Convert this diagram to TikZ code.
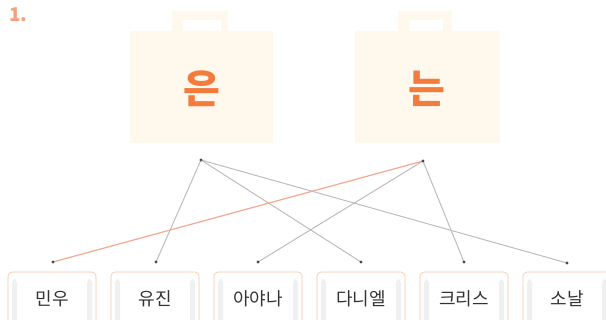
\documentclass[tikz,border=0pt]{standalone}
\usepackage{fontspec}
\newfontfamily\krfont{Noto Sans CJK KR}
\usetikzlibrary{backgrounds}
\definecolor{bagcream}{HTML}{FFF8EC}
\definecolor{markorange}{HTML}{F47B3E}
\definecolor{numsalmon}{HTML}{F4A07E}
\definecolor{boxpeach}{HTML}{F7C2A6}
\definecolor{wiregray}{HTML}{BDBDBD}
\definecolor{dotgray}{HTML}{4A4A4A}
\definecolor{pickline}{HTML}{F2AA90}
\tikzset{
  bagmark/.style={font=\krfont\bfseries\fontsize{40}{40}\selectfont, text=markorange, inner sep=0pt},
  namebox/.style={draw=boxpeach, line width=0.6pt, rounded corners=4pt, fill=white,
    minimum width=88pt, minimum height=53pt, inner sep=0pt,
    font=\krfont\fontsize{18}{18}\selectfont, text=black!80,
    path picture={
      \fill[gray!12] ([xshift=4pt]path picture bounding box.south west) rectangle ++(5pt,46pt);
      \fill[gray!12] ([xshift=-4pt]path picture bounding box.south east) rectangle ++(-5pt,46pt);}},
  dotmark/.style={circle, fill=dotgray, inner sep=0pt, minimum size=3.4pt},
  wire/.style={wiregray, line width=1pt}
}
\begin{document}
\begin{tikzpicture}[x=1pt,y=-1pt]
  \useasboundingbox (0,0) rectangle (606,320);
  \node[font=\krfont\bfseries\fontsize{19}{19}\selectfont, text=numsalmon, anchor=north west, inner sep=0pt] (num) at (9,8) {1.};
  % bags
  \fill[bagcream] (130,31) rectangle (273,143);
  \fill[bagcream, even odd rule] (172,11) rectangle (228,31) (183,20) rectangle (221,31);
  \fill[bagcream] (355,31) rectangle (500,143);
  \fill[bagcream, even odd rule] (398,11) rectangle (452,31) (409,20) rectangle (443,31);
  \node[bagmark] (eun) at (202,89) {은};
  \node[bagmark] (neun) at (427,89) {는};
  % pins
  \node[dotmark] (eunpin) at (201,160) {};
  \node[dotmark] (neunpin) at (423,161) {};
  \node[dotmark] (minupin) at (53,262) {};
  \node[dotmark] (yujinpin) at (156,262) {};
  \node[dotmark] (ayanapin) at (258,262) {};
  \node[dotmark] (danielpin) at (361,262) {};
  \node[dotmark] (chrispin) at (464,262) {};
  \node[dotmark] (sonalpin) at (567,263) {};
  % names
  \node[namebox] (minu) at (52,298.5) {민우};
  \node[namebox] (yujin) at (155,298.5) {유진};
  \node[namebox] (ayana) at (258,298.5) {아야나};
  \node[namebox] (daniel) at (361,298.5) {다니엘};
  \node[namebox] (chris) at (464,298.5) {크리스};
  \node[namebox] (sonal) at (567,298.5) {소날};
  % links
  \begin{scope}[on background layer]
    \draw[wire] (eunpin.center) -- (yujinpin.center);
    \draw[wire] (eunpin.center) -- (danielpin.center);
    \draw[wire] (eunpin.center) -- (sonalpin.center);
    \draw[wire] (neunpin.center) -- (ayanapin.center);
    \draw[wire] (neunpin.center) -- (chrispin.center);
    \draw[pickline, line width=1.2pt] (neunpin.center) -- (minupin.center);
  \end{scope}
\end{tikzpicture}
\end{document}
